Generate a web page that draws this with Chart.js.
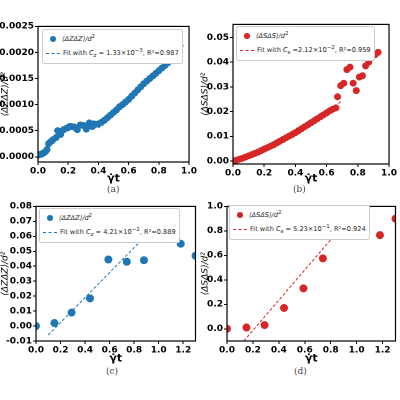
<!DOCTYPE html><html><head><meta charset="utf-8">
<script src="https://cdn.jsdelivr.net/npm/chart.js@4"></script>
<style>
body{margin:0;width:400px;height:400px;position:relative;background:#fff;font-family:"DejaVu Sans",sans-serif}
canvas{position:absolute}
.lg{position:absolute;border:1px solid #ccc;border-radius:2px;background:#fff;font-size:6.6px;line-height:11px;padding:1px 3px;white-space:nowrap;color:#222;z-index:2}
.lg span.m{display:inline-block;width:6px;height:6px;border-radius:50%;margin:0 6px 0 4px;vertical-align:middle}
.lg span.d{display:inline-block;width:14px;border-top:1px dashed;margin:0 3px 0 0;vertical-align:middle}
.cap{position:absolute;font-family:"DejaVu Serif",serif;font-size:9px;color:#444}
</style></head><body>
<canvas id="a"></canvas><canvas id="b"></canvas><canvas id="c"></canvas><canvas id="d"></canvas>
<div class="lg" style="left:42px;top:29px"><span class="m" style="background:#1f77b4"></span><i>⟨ΔZΔZ⟩/d</i><sup>2</sup><br><span class="d" style="border-color:#1f77b4"></span>Fit with <i>C<sub>z</sub></i> = 1.33×10<sup>−3</sup>, R²=0.987</div>
<div class="lg" style="left:236px;top:26px"><span class="m" style="background:#d62728"></span><i>⟨ΔSΔS⟩/d</i><sup>2</sup><br><span class="d" style="border-color:#d62728"></span>Fit with <i>C<sub>s</sub></i> =2.12×10<sup>−2</sup>, R²=0.959</div>
<div class="lg" style="left:39px;top:208px"><span class="m" style="background:#1f77b4"></span><i>⟨ΔZΔZ⟩/d</i><sup>2</sup><br><span class="d" style="border-color:#1f77b4"></span>Fit with <i>C<sub>z</sub></i> = 4.21×10<sup>−2</sup>, R²=0.889</div>
<div class="lg" style="left:229px;top:205px"><span class="m" style="background:#d62728"></span><i>⟨ΔSΔS⟩/d</i><sup>2</sup><br><span class="d" style="border-color:#d62728"></span>Fit with <i>C<sub>s</sub></i> = 5.23×10<sup>−1</sup>, R²=0.924</div>
<div class="cap" style="left:107px;top:184px">(a)</div>
<div class="cap" style="left:293px;top:184px">(b)</div>
<div class="cap" style="left:106px;top:366px">(c)</div>
<div class="cap" style="left:294px;top:366px">(d)</div>
<script>
const blue='#1f77b4', red='#d62728';
const aX=[0,0.01,0.02,0.03,0.04,0.05,0.06,0.07,0.08,0.09,0.1,0.12,0.13,0.15,0.16,0.17,0.19,0.2,0.21,0.22,0.24,0.25,0.26,0.28,0.3,0.32,0.33,0.34,0.36,0.37,0.38,0.4,0.42,0.44,0.46,0.48,0.5,0.52,0.54,0.56,0.58,0.6,0.62,0.64,0.66,0.68,0.7,0.72,0.74,0.76,0.78,0.8,0.82,0.84,0.86,0.88,0.9,0.92,0.94];
const aY=[0.00003,0.00004,0.00005,0.00006,0.00008,0.0001,0.00014,0.00025,0.00028,0.0003,0.00033,0.00037,0.0005,0.00043,0.0005,0.00052,0.00055,0.00056,0.00058,0.00058,0.00057,0.00055,0.00052,0.00061,0.0006,0.00053,0.0006,0.00065,0.00058,0.00063,0.00062,0.00063,0.00066,0.0007,0.00075,0.0008,0.00085,0.0009,0.00096,0.001,0.00105,0.0011,0.00116,0.00122,0.00128,0.00134,0.0014,0.00145,0.0015,0.00155,0.0016,0.00165,0.0017,0.00175,0.0018,0.00185,0.0019,0.00195,0.00213];
const aFitX=[0.4,0.43], aFitY=[0.00055,0.00063];
const bX=[0,0.02,0.04,0.06,0.08,0.1,0.12,0.14,0.16,0.18,0.2,0.22,0.24,0.26,0.28,0.3,0.32,0.34,0.36,0.38,0.4,0.42,0.44,0.46,0.48,0.5,0.52,0.54,0.56,0.58,0.6,0.62,0.64,0.66,0.67,0.69,0.71,0.73,0.75,0.77,0.79,0.81,0.83,0.85,0.87,0.89,0.91,0.93];
const bY=[0,0.0003,0.0007,0.0011,0.0016,0.0021,0.0026,0.0031,0.0036,0.0042,0.0048,0.0054,0.006,0.0066,0.0073,0.008,0.0087,0.0094,0.0101,0.0108,0.0115,0.0123,0.0131,0.0139,0.0147,0.0155,0.0163,0.0171,0.0179,0.0187,0.0195,0.0203,0.021,0.0215,0.026,0.0305,0.0315,0.037,0.038,0.0315,0.0285,0.034,0.0345,0.0385,0.04,0.042,0.043,0.044];
const bFitX=[0.6,0.7], bFitY=[0.0195,0.0245];
const cX=[0,0.15,0.29,0.44,0.59,0.74,0.88,1.18,1.3];
const cY=[0,0.002,0.009,0.0185,0.0445,0.043,0.044,0.055,0.047];
const cFitX=[0.1,1.13], cFitY=[-0.006,0.08];
const dX=[0,0.15,0.29,0.44,0.59,0.74,1.03,1.18,1.3];
const dY=[0,0.01,0.03,0.17,0.33,0.575,0.765,0.765,0.9];
const dFitX=[0.13,1.02], dFitY=[-0.1,1.0];

const frame={id:'frame',afterDraw(c){const a=c.chartArea,x=c.ctx;x.save();x.strokeStyle='#000';x.lineWidth=1.2;x.strokeRect(a.left,a.top,a.right-a.left,a.bottom-a.top);x.restore();}};
const pts=(X,Y)=>X.map((v,i)=>({x:v,y:Y[i]}));
function panel(id,L,T,W,H,area,X,Y,FX,FY,col,r,xr,xt,xd,yr,yt,yd,ylab){
  const cv=document.getElementById(id);cv.style.left=L+'px';cv.style.top=T+'px';cv.width=W;cv.height=H;
  const tf={family:'DejaVu Sans',size:9,weight:'bold'};
  new Chart(cv,{type:'scatter',data:{datasets:[
    {data:pts(X,Y),backgroundColor:col,borderColor:col,pointRadius:r,pointHoverRadius:r},
    {data:pts(FX,FY),type:'line',borderColor:col,borderWidth:1,borderDash:[3,2],pointRadius:0,fill:false}]},
   plugins:[frame],
   options:{responsive:false,devicePixelRatio:2,animation:false,events:[],
    layout:{padding:{top:area.t-T,right:L+W-area.r,left:0,bottom:0}},
    plugins:{legend:{display:false},tooltip:{enabled:false}},
    scales:{
     x:{type:'linear',min:xr[0],max:xr[1],grid:{drawOnChartArea:false,tickLength:3,color:'#000'},border:{display:false},
        afterBuildTicks:s=>{s.ticks=xt.map(v=>({value:v}))},afterFit:s=>{s.height=T+H-area.b},
        ticks:{font:tf,color:'#000',padding:1,maxRotation:0,callback:v=>v.toFixed(xd)},
        title:{display:true,text:'γ̇t',font:{family:'DejaVu Sans',size:11,weight:'bold'},color:'#000',padding:0}},
     y:{min:yr[0],max:yr[1],grid:{drawOnChartArea:false,tickLength:3,color:'#000'},border:{display:false},
        afterBuildTicks:s=>{s.ticks=yt.map(v=>({value:v}))},afterFit:s=>{s.width=area.l-L},
        ticks:{font:tf,color:'#000',padding:1,callback:v=>v.toFixed(yd)},
        title:{display:true,text:ylab,font:{family:'DejaVu Sans',size:9,style:'italic'},color:'#000',padding:0}}}}});
}
panel('a',0,20,198,165,{l:38,t:26,r:191,b:162},aX,aY,aFitX,aFitY,blue,3,[0,1],[0,0.2,0.4,0.6,0.8,1],1,[-0.0001,0.0025],[0,0.0005,0.001,0.0015,0.002,0.0025],4,'⟨ΔZΔZ⟩/d²');
panel('b',200,18,198,167,{l:233,t:24,r:392,b:164},bX,bY,bFitX,bFitY,red,3,[0,1],[0,0.2,0.4,0.6,0.8,1],1,[-0.0012,0.0553],[0,0.01,0.02,0.03,0.04,0.05],2,'⟨ΔSΔS⟩/d²');
panel('c',0,200,200,165,{l:36,t:205,r:197,b:341},cX,cY,cFitX,cFitY,blue,3.5,[0,1.3],[0,0.2,0.4,0.6,0.8,1,1.2],1,[-0.01,0.08],[-0.01,0,0.01,0.02,0.03,0.04,0.05,0.06,0.07,0.08],2,'⟨ΔZΔZ⟩/d²');
panel('d',200,200,200,165,{l:227,t:205,r:399,b:341},dX,dY,dFitX,dFitY,red,3.5,[0,1.3],[0,0.2,0.4,0.6,0.8,1,1.2],1,[-0.1,1.0],[0,0.2,0.4,0.6,0.8,1],1,'⟨ΔSΔS⟩/d²');
</script></body></html>
